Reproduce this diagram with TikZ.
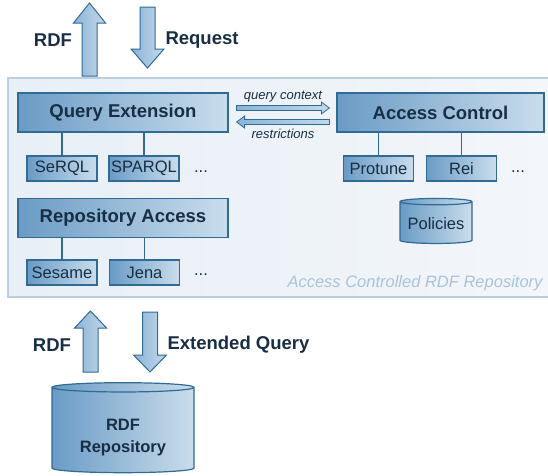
\documentclass[tikz,border=0pt]{standalone}
\usepackage{fontspec}
\setmainfont{Liberation Sans}
\usepackage{tikz}
\usetikzlibrary{shapes.geometric,calc}

\definecolor{boxdark}{HTML}{6A9BC5}
\definecolor{boxlight}{HTML}{CADDEC}
\definecolor{boxline}{HTML}{2F6B95}
\definecolor{arrowdark}{HTML}{8DB4D6}
\definecolor{arrowlight}{HTML}{C3D8EA}
\definecolor{outerleft}{HTML}{E8EFF6}
\definecolor{outerright}{HTML}{F3F6FA}
\definecolor{outerline}{HTML}{BCCFE0}
\definecolor{textdark}{HTML}{172E44}
\definecolor{labelgray}{HTML}{A9C3DB}

\tikzset{
    bigbox/.style={draw=boxline, line width=1.2pt, left color=boxdark, right color=boxlight,
        minimum width=210pt, minimum height=39pt, text=textdark,
        font=\bfseries\fontsize{18.5}{20}\selectfont},
    smallbox/.style={draw=boxline, line width=1.2pt, left color=boxdark, right color=boxlight,
        minimum width=70pt, minimum height=25pt, inner sep=0pt, text=textdark,
        font=\fontsize{16.5}{18}\selectfont},
    store/.style={cylinder, shape border rotate=90, aspect=0.1, draw=boxline, line width=1.2pt,
        left color=boxdark, right color=boxlight, text=textdark, align=center},
    fatarrow/.style={draw=boxline, line width=1pt, left color=arrowdark, right color=arrowlight},
    plain/.style={text=textdark, font=\fontsize{16.5}{18}\selectfont},
    biglabel/.style={text=textdark, font=\bfseries\fontsize{18.5}{20}\selectfont},
    smalllabel/.style={text=textdark, font=\itshape\fontsize{13}{15}\selectfont},
}

% block arrows: #1 tail, #2 tip, #3 head length
\newcommand{\upblock}[3]{%
    \path[fatarrow] let \p1=(#1), \p2=(#2) in
        (\x1-7.5pt,\y1) -- (\x1-7.5pt,\y2-#3) -- (\x1-16pt,\y2-#3) -- (\x2,\y2)
        -- (\x1+16pt,\y2-#3) -- (\x1+7.5pt,\y2-#3) -- (\x1+7.5pt,\y1) -- cycle;}
\newcommand{\downblock}[3]{%
    \path[fatarrow] let \p1=(#1), \p2=(#2) in
        (\x1-7.5pt,\y1) -- (\x1-7.5pt,\y2+#3) -- (\x1-16.5pt,\y2+#3) -- (\x2,\y2)
        -- (\x1+16.5pt,\y2+#3) -- (\x1+7.5pt,\y2+#3) -- (\x1+7.5pt,\y1) -- cycle;}
% thin sideways arrows: #1 tail, #2 tip, #3 head length (negative when pointing left)
\newcommand{\sideblock}[3]{%
    \path[fatarrow, line width=0.8pt] let \p1=(#1), \p2=(#2) in
        (\x1,\y1-2.5pt) -- (\x2-#3,\y1-2.5pt) -- (\x2-#3,\y1-6pt) -- (\x2,\y2)
        -- (\x2-#3,\y1+6pt) -- (\x2-#3,\y1+2.5pt) -- (\x1,\y1+2.5pt) -- cycle;}

\begin{document}
\begin{tikzpicture}[x=1pt,y=-1pt]
    \useasboundingbox (0,0) rectangle (548,475);

    % Repository frame
    \node[draw=outerline, line width=1.2pt, left color=outerleft, right color=outerright,
        minimum width=544pt, minimum height=219pt] (ACR) at (280,187.5) {};
    \node[anchor=east, text=labelgray, font=\itshape\fontsize{16.5}{18}\selectfont]
        (ACRlabel) at (546,283) {Access Controlled RDF Repository};

    % Query side
    \node[bigbox] (QE) at (123,112.5) {Query Extension};
    \node[smallbox] (SeRQL)  at (62,168.5)  {SeRQL};
    \node[smallbox] (SPARQL) at (144,168.5) {SPARQL};
    \node[plain] (dotsA) at (201,172) {...};

    \node[bigbox] (RA) at (123,218) {Repository Access};
    \node[smallbox] (Sesame) at (62,272.5)    {Sesame};
    \node[smallbox] (Jena)   at (144.5,272.5) {Jena};
    \node[plain] (dotsB) at (201,275) {...};

    % Access control side
    \node[bigbox, minimum width=207pt] (AC) at (440.5,112.5) {Access Control};
    \node[smallbox] (Protune) at (378.5,168.5) {Protune};
    \node[smallbox] (Rei)     at (461.5,168.5) {Rei};
    \node[plain] (dotsC) at (518,172) {...};
    \node[store, plain, minimum width=72pt, minimum height=45pt] (Pol) at (436,223.5) {Policies};

    \foreach \n/\m in {SeRQL/QE, SPARQL/QE, Sesame/RA, Jena/RA, Protune/AC, Rei/AC}
        \draw[boxline, line width=1.2pt] (\n.north) -- (\n.north |- \m.south);

    % query context / restrictions
    \coordinate (ctxA) at ([xshift=8pt,yshift=4.5pt]QE.east);
    \coordinate (ctxB) at ([xshift=-7pt,yshift=4.5pt]QE.east -| AC.west);
    \coordinate (resA) at ([xshift=-7pt,yshift=-9.5pt]QE.east -| AC.west);
    \coordinate (resB) at ([xshift=8pt,yshift=-9.5pt]QE.east);
    \sideblock{ctxA}{ctxB}{8pt}
    \sideblock{resA}{resB}{-8pt}
    \node[smalllabel] (ctx) at ($(ctxA)!0.5!(ctxB)+(0,-11)$) {query context};
    \node[smalllabel] (res) at ($(resA)!0.5!(resB)+(0,12)$) {restrictions};

    % RDF store
    \node[store, minimum width=142pt, minimum height=90pt, text height=46pt,
        font=\bfseries\fontsize{16.5}{22}\selectfont]
        (Repo) at (123,431) {RDF\\Repository};

    % top arrows
    \coordinate (outA) at (89.5,76);  \coordinate (outB) at (89.5,3);
    \coordinate (inA)  at (147.5,7);  \coordinate (inB)  at (147.5,68);
    \upblock{outA}{outB}{20pt}
    \downblock{inA}{inB}{19pt}
    \node[biglabel] (rdfTop) at (53,40) {RDF};
    \node[biglabel, anchor=west] (req) at (162,40) {Request};

    % bottom arrows
    \coordinate (retA) at (90.5,372); \coordinate (retB) at (90.5,311);
    \coordinate (askA) at (150,312);  \coordinate (askB) at (150,372);
    \upblock{retA}{retB}{17pt}
    \downblock{askA}{askB}{17pt}
    \node[biglabel] (rdfBot) at (52,345) {RDF};
    \node[biglabel, anchor=west] (extq) at (164,345) {Extended Query};
\end{tikzpicture}
\end{document}
